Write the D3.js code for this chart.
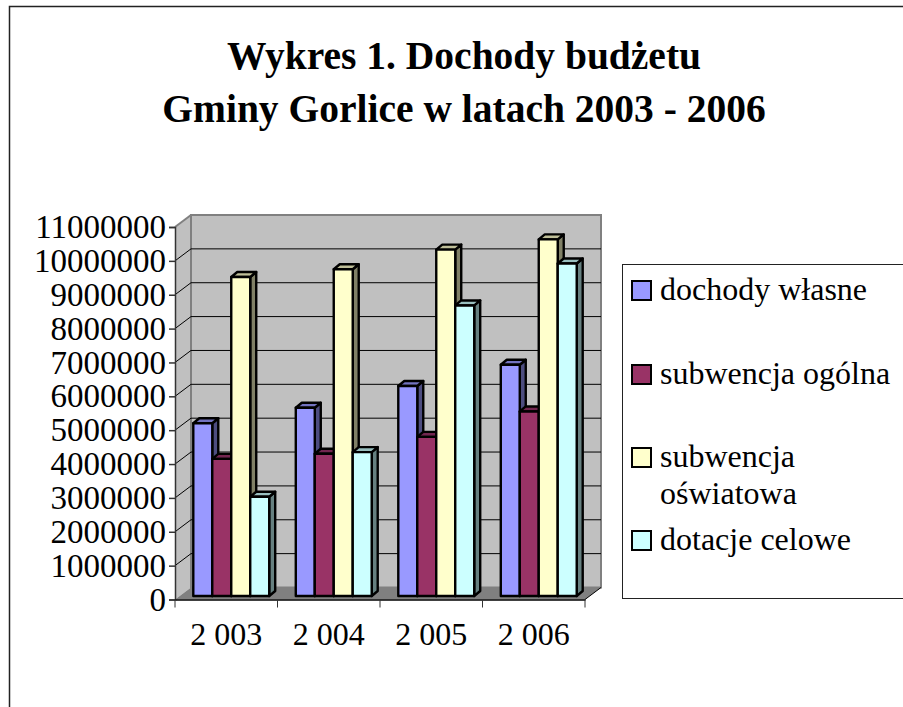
<!DOCTYPE html>
<html>
<head>
<meta charset="utf-8">
<script src="https://cdn.jsdelivr.net/npm/d3@7"></script>
<style>
  html, body { margin: 0; padding: 0; background: #fff; overflow: hidden; }
  text { font-family: "Liberation Serif", serif; fill: #000; }
</style>
</head>
<body>
<div id="chart"></div>
<script>
// Data
const years = ["2 003", "2 004", "2 005", "2 006"];
const seriesNames = ["dochody własne", "subwencja ogólna", "subwencja oświatowa", "dotacje celowe"];
const dochodyWlasne = [5100000, 5560000, 6200000, 6830000];
const subwencjaOgolna = [4050000, 4200000, 4700000, 5450000];
const subwencjaOswiatowa = [9420000, 9650000, 10230000, 10530000];
const dotacjeCelowe = [2930000, 4250000, 8580000, 9820000];
const seriesValues = [dochodyWlasne, subwencjaOgolna, subwencjaOswiatowa, dotacjeCelowe];
const yTicks = d3.range(0, 11000001, 1000000);
const titleLines = ["Wykres 1. Dochody budżetu", "Gminy Gorlice w latach 2003 - 2006"];

const colors = ["#9999ff", "#993366", "#ffffcc", "#ccffff"];
const sideColors = ["#4d4d80", "#4d1a33", "#808066", "#668080"];
const topColors = ["#7373bf", "#732650", "#bfbf99", "#99bfbf"];

const width = 903, height = 707;

// Front plane of the plot and the shift to the back wall
const plot = {left: 175, right: 585, top: 227, bottom: 599.5};
const wallDx = 16, wallDy = 12;
const barDx = 6, barDy = 5;

const svg = d3.select("#chart").append("svg")
  .attr("width", width)
  .attr("height", height)
  .style("display", "block");

const x0 = d3.scaleBand().domain(years).range([plot.left, plot.right]);
const x1 = d3.scaleBand()
  .domain(d3.range(seriesNames.length))
  .range([0, x0.bandwidth()])
  .paddingOuter(0.7);
const y = d3.scaleLinear().domain([0, 11000000]).range([plot.bottom, plot.top]);

// Page frame
svg.append("path")
  .attr("d", "M9.5,707V6.5H903")
  .attr("fill", "none")
  .attr("stroke", "#222")
  .attr("stroke-width", 1.5);

// Title
svg.append("g").selectAll("text")
  .data(titleLines)
  .enter()
  .append("text")
    .attr("x", 464)
    .attr("y", (d, i) => 69 + i * 53)
    .attr("text-anchor", "middle")
    .style("font-size", "39.5px")
    .style("font-weight", "bold")
    .text(d => d);

// Walls and floor
const wall = svg.append("g");
wall.append("polygon")
  .attr("points", [[plot.left, plot.top], [plot.left + wallDx, plot.top - wallDy], [plot.left + wallDx, plot.bottom - wallDy], [plot.left, plot.bottom]].join(" "))
  .attr("fill", "#c0c0c0");
wall.append("rect")
  .attr("x", plot.left + wallDx)
  .attr("y", plot.top - wallDy)
  .attr("width", plot.right - plot.left)
  .attr("height", plot.bottom - plot.top)
  .attr("fill", "#c0c0c0")
  .attr("stroke", "#808080")
  .attr("stroke-width", 2);
wall.append("polygon")
  .attr("points", [[plot.left, plot.bottom], [plot.left + wallDx, plot.bottom - wallDy], [plot.right + wallDx, plot.bottom - wallDy], [plot.right, plot.bottom]].join(" "))
  .attr("fill", "#808080");
wall.append("path")
  .attr("d", `M${plot.left},${plot.top}L${plot.left + wallDx},${plot.top - wallDy}`)
  .attr("stroke", "#808080")
  .attr("stroke-width", 2);
wall.append("path")
  .attr("d", `M${plot.right},${plot.bottom}L${plot.right + wallDx},${plot.bottom - wallDy}`)
  .attr("stroke", "#000")
  .attr("stroke-width", 1);

// Gridlines along the side and back walls
const grid = svg.append("g")
  .attr("stroke", "#000")
  .attr("fill", "none")
  .attr("stroke-width", 1);
grid.selectAll("path")
  .data(yTicks.slice(1, -1))
  .enter()
  .append("path")
    .attr("d", d => `M${plot.left},${y(d)}L${plot.left + wallDx},${y(d) - wallDy}H${plot.right + wallDx}`);

// Bars, front face, side and top
const barBase = 3.5, barShift = 5;
const v = d3.scaleLinear().domain([0, 11000000]).range([plot.bottom - barBase, plot.top - barBase]);
const groups = svg.selectAll(".year-group")
  .data(years)
  .enter()
  .append("g")
    .attr("class", "year-group")
    .attr("transform", d => `translate(${x0(d) + barShift},0)`);

groups.each(function(year, yi) {
  const g = d3.select(this);
  seriesValues.forEach((vals, si) => {
    const bx = x1(si), bw = x1.bandwidth(), by = v(vals[yi]), b = v(0);
    const bar = g.append("g")
      .attr("stroke", "#000")
      .attr("stroke-width", 2.4)
      .attr("stroke-linejoin", "round");
    bar.append("polygon")
      .attr("points", [[bx + bw, by], [bx + bw + barDx, by - barDy], [bx + bw + barDx, b - barDy], [bx + bw, b]].join(" "))
      .attr("fill", sideColors[si]);
    bar.append("polygon")
      .attr("points", [[bx, by], [bx + barDx, by - barDy], [bx + bw + barDx, by - barDy], [bx + bw, by]].join(" "))
      .attr("fill", topColors[si]);
    bar.append("rect")
      .attr("x", bx)
      .attr("y", by)
      .attr("width", bw)
      .attr("height", b - by)
      .attr("fill", colors[si]);
  });
});

// Axes
const yAxis = svg.append("g")
  .attr("transform", `translate(${plot.left},0)`)
  .call(d3.axisLeft(y).tickValues(yTicks).tickFormat(d3.format("d")).tickSize(6).tickPadding(3));
yAxis.selectAll("text").style("font-size", "33px");
yAxis.selectAll("path, line").attr("stroke", "#333").attr("stroke-width", 1.5);

const xAxis = svg.append("g")
  .attr("transform", `translate(0,${plot.bottom})`)
  .call(d3.axisBottom(x0).tickSize(0).tickPadding(23));
xAxis.selectAll("text").style("font-size", "32px");
xAxis.select(".domain").attr("stroke", "#000").attr("stroke-width", 1.5);
xAxis.selectAll(".sep")
  .data(d3.range(years.length + 1))
  .enter()
  .append("line")
    .attr("class", "sep")
    .attr("x1", i => plot.left + i * x0.step())
    .attr("x2", i => plot.left + i * x0.step())
    .attr("y1", 0)
    .attr("y2", 8)
    .attr("stroke", "#333");

// Legend
svg.append("rect")
  .attr("x", 622.5)
  .attr("y", 264.5)
  .attr("width", 300)
  .attr("height", 334)
  .attr("fill", "#fff")
  .attr("stroke", "#222");

const legendY = [291, 375, 458, 541];
const legend = svg.selectAll(".legend-item")
  .data(seriesNames)
  .enter()
  .append("g")
    .attr("class", "legend-item")
    .attr("transform", (d, i) => `translate(0,${legendY[i]})`);
legend.append("rect")
  .attr("x", 632)
  .attr("y", -10)
  .attr("width", 19)
  .attr("height", 19)
  .attr("fill", (d, i) => colors[i])
  .attr("stroke", "#000")
  .attr("stroke-width", 2);
legend.append("text")
  .attr("x", 660)
  .attr("y", 9)
  .style("font-size", "32px")
  .each(function(d) {
    const words = d === "subwencja oświatowa" ? d.split(" ") : [d];
    d3.select(this).selectAll("tspan")
      .data(words)
      .enter()
      .append("tspan")
        .attr("x", 660)
        .attr("dy", (w, i) => i ? 37 : 0)
        .text(w => w);
  });
</script>
</body>
</html>
